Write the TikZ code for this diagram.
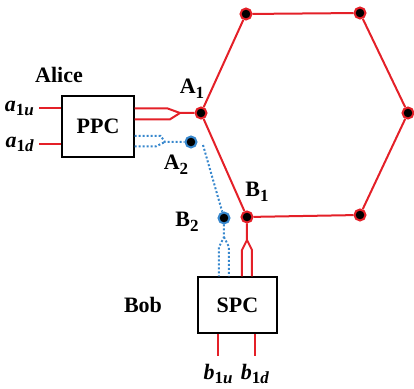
\documentclass[tikz,border=0pt]{standalone}
\usepackage{fontspec}
\setmainfont{Liberation Serif}
\usetikzlibrary{positioning}
\definecolor{ph}{RGB}{228,32,40}
\definecolor{pb}{RGB}{55,135,205}
\newcommand{\lowsub}[1]{\raisebox{-0.45ex}{\fontsize{8.5}{9}\selectfont #1}}
\newcommand{\mode}[2]{\textit{#1}\lowsub{1\textit{#2}}}

\begin{document}
\begin{tikzpicture}[x=0.5pt,y=-0.5pt,
  box/.style={rectangle,draw,line width=0.7pt,inner sep=0pt,
    font=\fontsize{11}{12}\selectfont\bfseries},
  lbl/.style={inner sep=1pt,font=\fontsize{11}{12}\selectfont\bfseries},
  dot/.style={circle,fill=black,draw=ph,line width=1pt,minimum size=5.5pt,inner sep=0pt},
  bdot/.style={dot,draw=pb},
  rline/.style={draw=ph,line width=1pt},
  bline/.style={draw=pb,line width=1pt,dash pattern=on 1pt off 1pt}]
  \useasboundingbox (0,0) rectangle (414,389);
  % boxes
  \node[box,minimum width=36pt,minimum height=30.5pt] (ppc) at (98,126.5) {PPC};
  \node[box,minimum width=39.5pt,minimum height=28pt] (spc) at (237.5,305) {SPC};
  \node[lbl] (alice) at (59,75) {Alice};
  \node[lbl] (bob) at (143,305) {Bob};
  % hexagon
  \node[dot] (A1) at (201,113) {};
  \node[dot] (tl) at (246,14) {};
  \node[dot] (tr) at (360,13) {};
  \node[dot] (rt) at (408,113) {};
  \node[dot] (br) at (360,215) {};
  \node[dot] (B1) at (247,217) {};
  \node[bdot] (A2) at (191,142) {};
  \node[bdot] (B2) at (224,218) {};
  \node[lbl] at (192,89) {A\lowsub{1}};
  \node[lbl] at (176,165) {A\lowsub{2}};
  \node[lbl] at (257,192) {B\lowsub{1}};
  \node[lbl] at (187,222) {B\lowsub{2}};
  \draw[rline] (A1) -- (tl) -- (tr) -- (rt) -- (br) -- (B1) -- (A1);
  % inputs and outputs
  \node[lbl,anchor=east,inner sep=2.5pt] (a1u) at ([xshift=-11pt,yshift=9pt]ppc.west) {\mode{a}{u}};
  \node[lbl,anchor=east,inner sep=2.5pt] (a1d) at ([xshift=-11pt,yshift=-9pt]ppc.west) {\mode{a}{d}};
  \draw[rline] (a1u.east) -- (a1u.east -| ppc.west);
  \draw[rline] (a1d.east) -- (a1d.east -| ppc.west);
  \node[lbl,anchor=north,inner sep=4pt] (b1u) at ([xshift=-9.75pt,yshift=-11pt]spc.south) {\mode{b}{u}};
  \node[lbl,anchor=north,inner sep=4pt] (b1d) at ([xshift=8.75pt,yshift=-11pt]spc.south) {\mode{b}{d}};
  \draw[rline] (b1u.north) -- (b1u.north |- spc.south);
  \draw[rline] (b1d.north) -- (b1d.north |- spc.south);
  % PPC to A1, A2
  \coordinate (a1m) at (180,113);
  \coordinate (a2m) at (165,142);
  \draw[rline] ([yshift=9pt]ppc.east) -- ++(33,0) -- (a1m) -- (A1);
  \draw[rline] ([yshift=3.5pt]ppc.east) -- ++(35,0) -- (a1m);
  \draw[bline] ([yshift=-4.75pt]ppc.east) -- ++(26,0) -- (a2m) -- (A2);
  \draw[bline] ([yshift=-10pt]ppc.east) -- ++(21,0) -- (a2m);
  % A2 to B2
  \coordinate (a2t) at (203,145);
  \draw[bline] (a2t) -- (B2);
  % B1, B2 to SPC
  \coordinate (b1m) at (247,240);
  \coordinate (b2m) at (224,237);
  \draw[rline] (B1) -- (b1m) -- ++(-5,10) -- ([xshift=2.25pt]spc.north);
  \draw[rline] (b1m) -- ++(5,10) -- ([xshift=7.25pt]spc.north);
  \draw[bline] (B2) -- (b2m) -- ++(-5,10) -- ([xshift=-9.25pt]spc.north);
  \draw[bline] (b2m) -- ++(5,10) -- ([xshift=-4.25pt]spc.north);
\end{tikzpicture}
\end{document}
